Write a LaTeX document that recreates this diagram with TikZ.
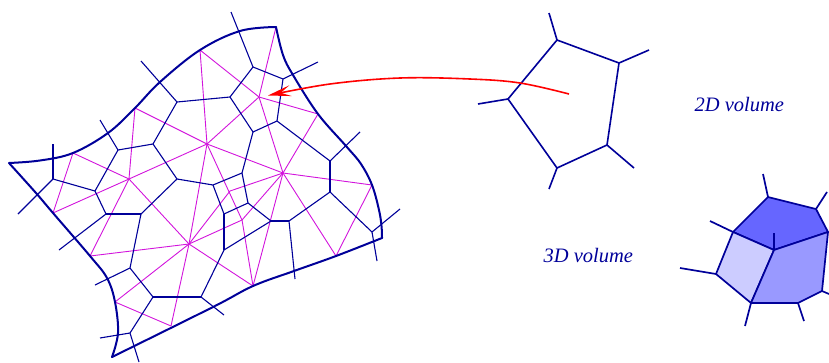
\documentclass[tikz,border=0pt]{standalone}
\usepackage{fontspec}
\setmainfont{Liberation Serif}
\usetikzlibrary{arrows.meta}
\definecolor{navyb}{RGB}{0,0,153}
\definecolor{delau}{RGB}{210,20,220}
\tikzset{
  x=1pt,y=-1pt,
  outline/.style={navyb,line width=2pt,line cap=round,line join=round},
  vor/.style={navyb,line width=1.1pt},
  delaun/.style={delau,line width=.9pt},
  poly/.style={navyb,line width=1.6pt,line join=round},
  solid3/.style={navyb,line width=1.7pt,line join=round},
  lab/.style={navyb,font=\itshape\fontsize{20.5}{24}\selectfont,inner sep=0pt},
  pointer/.style={red,line width=1.6pt,-{Stealth[length=23pt,width=11pt,inset=10pt]}},
}
\begin{document}
\begin{tikzpicture}
\useasboundingbox (0,0) rectangle (829,362);
% outer corners and delaunay boundary sites
\coordinate (c1) at (9,163);
\coordinate (c2) at (276,27);
\coordinate (c3) at (382,238);
\coordinate (c4) at (112,357);
\coordinate (da) at (53,213);
\coordinate (db) at (73,153);
\coordinate (dc) at (135,108);
\coordinate (dd) at (200,50);
\coordinate (de) at (276,27);
\coordinate (df) at (318,114);
\coordinate (dg) at (372,185);
\coordinate (dh) at (336,256);
\coordinate (di) at (253,286);
\coordinate (dj) at (171,326);
\coordinate (dk) at (115,302);
\coordinate (dl) at (90,256);
\coordinate (dm) at (129,179);
\coordinate (dn) at (207,144);
\coordinate (do) at (259,97);
\coordinate (dp) at (283,173);
\coordinate (dq) at (189,244);
\coordinate (dr) at (230,191);
\coordinate (ds) at (242,220);
% voronoi vertices
\coordinate (A) at (53,179);
\coordinate (B) at (118,150);
\coordinate (C) at (153,144);
\coordinate (D) at (177,102);
\coordinate (E) at (177,179);
\coordinate (F) at (230,97);
\coordinate (G) at (253,67);
\coordinate (H) at (283,79);
\coordinate (I) at (277,121);
\coordinate (J) at (253,132);
\coordinate (K) at (330,161);
\coordinate (L) at (330,192);
\coordinate (M) at (372,232);
\coordinate (N) at (289,221);
\coordinate (O) at (271,221);
\coordinate (Q) at (242,173);
\coordinate (R) at (213,185);
\coordinate (S) at (224,214);
\coordinate (T) at (248,203);
\coordinate (U) at (224,250);
\coordinate (V) at (95,191);
\coordinate (W) at (106,214);
\coordinate (X) at (141,214);
\coordinate (Y) at (130,268);
\coordinate (Z) at (153,297);
\coordinate (AA) at (201,297);
\coordinate (AB) at (130,333);
% stub ends
\coordinate (sA) at (53,144);
\coordinate (sA2) at (18,214);
\coordinate (sB) at (100,120);
\coordinate (sD) at (141,61);
\coordinate (sG) at (231,12);
\coordinate (sH) at (318,62);
\coordinate (sK) at (360,132);
\coordinate (sM) at (400,209);
\coordinate (sM2) at (377,261);
\coordinate (sN) at (295,279);
\coordinate (sW) at (59,250);
\coordinate (sY) at (95,285);
\coordinate (sAB) at (100,338);
\coordinate (sAB2) at (139,362);
\coordinate (sAA) at (224,315);
% delaunay
\foreach \a/\b in {da/db,da/dm,db/dm,dc/dm,dc/dn,dd/dn,dd/do,de/do,df/do,df/dp,dg/dp,dh/dp,dg/dh,di/dp,
  dn/ds,ds/di,dr/dp,dr/dq,ds/dp,ds/dq,dl/dq,dk/dq,dj/dq,dm/dq,dn/dq,di/dq,dl/dm,dm/dn,dk/dj,dn/do,dn/dp,do/dp}
  \draw[delaun] (\a)--(\b);
% voronoi
\foreach \a/\b in {A/sA,A/sA2,A/V,B/sB,B/C,B/V,C/D,C/E,D/sD,D/F,E/R,E/X,F/G,F/J,G/H,G/sG,H/sH,H/I,I/J,I/K,
  J/Q,K/sK,K/L,L/M,L/N,M/sM,M/sM2,N/O,N/sN,O/T,O/U,Q/R,Q/T,R/S,S/T,S/U,U/AA,V/W,W/X,W/sW,X/Y,Y/sY,Y/Z,Z/AA,Z/AB,
  AA/sAA,AB/sAB,AB/sAB2}
  \draw[vor] (\a)--(\b);
% outer boundary
\draw[outline] plot[smooth,tension=.6] coordinates {(c1) (40,160.5) (db) (108,133) (dc) (160,82) (dd) (240,31) (c2)};
\draw[outline] plot[smooth,tension=.6] coordinates {(c2) (283,55) (293,75) (df) (346,146) (361,164) (dg) (379,210) (381.5,226) (c3)};
\draw[outline] plot[smooth,tension=.6] coordinates {(c3) (dh) (294,271) (di) (213,307) (c4)};
\draw[outline] plot[smooth,tension=.6] coordinates {(c4) (118,333) (dk) (107,278) (dl) (da) (36,193) (c1)};
% 2D volume
\coordinate (pa) at (557,40);
\coordinate (pb) at (619,63);
\coordinate (pc) at (607,145);
\coordinate (pd) at (557,168);
\coordinate (pe) at (508,99);
\coordinate (ta) at (549,13);
\coordinate (tb) at (649,50);
\coordinate (tc) at (634,168);
\coordinate (td) at (549,189);
\coordinate (te) at (478,104);
\draw[poly] (pa)--(pb)--(pc)--(pd)--(pe)--cycle;
\foreach \a/\b in {pa/ta,pb/tb,pc/tc,pd/td,pe/te} \draw[poly] (\a)--(\b);
\node[lab,anchor=base west] (two) at (694.5,111) {2D volume};
\node[lab,anchor=base west] (three) at (543.5,262) {3D volume};
% 3D volume
\coordinate (va) at (768,197);
\coordinate (vb) at (816,209);
\coordinate (vc) at (828,232);
\coordinate (vd) at (774,250);
\coordinate (ve) at (733,232);
\coordinate (vf) at (716,274);
\coordinate (vg) at (751,303);
\coordinate (vh) at (798,303);
\coordinate (vi) at (822,291);
\coordinate (ua) at (763,174);
\coordinate (ub) at (827,192);
\coordinate (ud) at (774,233);
\coordinate (ue) at (710,221);
\coordinate (uf) at (680,268);
\coordinate (ug) at (745,326);
\coordinate (uh) at (804,321);
\coordinate (ui) at (829,294);
\foreach \a/\b in {va/ua,vb/ub,ve/ue,vf/uf,vg/ug,vh/uh,vi/ui} \draw[solid3] (\a)--(\b);
\filldraw[solid3,fill={rgb,255:red,102;green,102;blue,255}] (va)--(vb)--(vc)--(vd)--(ve)--cycle;
\filldraw[solid3,fill={rgb,255:red,204;green,204;blue,255}] (ve)--(vd)--(vg)--(vf)--cycle;
\filldraw[solid3,fill={rgb,255:red,153;green,153;blue,255}] (vd)--(vc)--(vi)--(vh)--(vg)--cycle;
\draw[solid3] (vd)--(ud);
% pointer
\coordinate (rs) at (569,94);
\coordinate (rt) at (268,95.5);
\draw[pointer] plot[smooth,tension=.6] coordinates {(rs) (520,83) (470,79) (400,78) (330,84) (rt)};
\end{tikzpicture}
\end{document}
